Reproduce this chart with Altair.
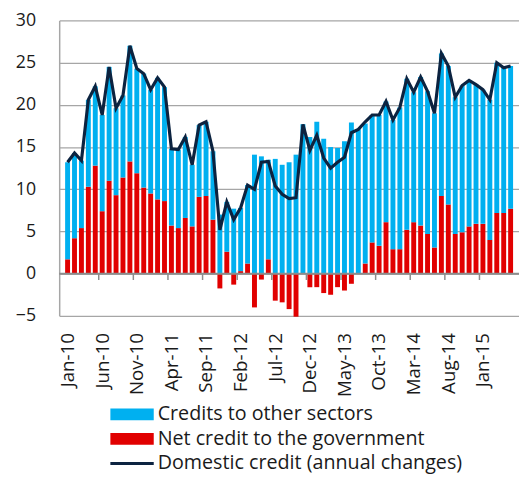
import json
import altair as alt
import pandas as pd

# ---- data ----
months = [
    "Jan-10", "Feb-10", "Mar-10", "Apr-10", "May-10", "Jun-10", "Jul-10", "Aug-10", "Sep-10", "Oct-10", "Nov-10", "Dec-10",
    "Jan-11", "Feb-11", "Mar-11", "Apr-11", "May-11", "Jun-11", "Jul-11", "Aug-11", "Sep-11", "Oct-11", "Nov-11", "Dec-11",
    "Jan-12", "Feb-12", "Mar-12", "Apr-12", "May-12", "Jun-12", "Jul-12", "Aug-12", "Sep-12", "Oct-12", "Nov-12", "Dec-12",
    "Jan-13", "Feb-13", "Mar-13", "Apr-13", "May-13", "Jun-13", "Jul-13", "Aug-13", "Sep-13", "Oct-13", "Nov-13", "Dec-13",
    "Jan-14", "Feb-14", "Mar-14", "Apr-14", "May-14", "Jun-14", "Jul-14", "Aug-14", "Sep-14", "Oct-14", "Nov-14", "Dec-14",
    "Jan-15", "Feb-15", "Mar-15", "Apr-15", "May-15",
]

net_gov = [
    1.7, 4.2, 5.4, 10.3, 12.8, 7.4, 11.0, 9.3, 11.4, 13.3, 11.9, 10.2,
    9.5, 8.8, 8.6, 5.7, 5.4, 6.6, 5.6, 9.1, 9.2, 6.4, -1.75, 2.6,
    -1.3, 0.3, 1.2, -4.0, -0.7, 1.7, -3.2, -3.4, -4.2, -5.1, 0.0, -1.6,
    -1.6, -2.3, -2.5, -1.6, -2.0, -1.2, 0.0, 1.2, 3.7, 3.3, 6.1, 2.9,
    2.9, 5.2, 6.1, 5.7, 4.7, 3.1, 9.2, 8.2, 4.7, 4.9, 5.6, 5.9,
    5.9, 4.0, 7.2, 7.2, 7.7,
]

other_sectors = [
    11.5, 10.1, 8.0, 10.3, 9.4, 11.4, 13.5, 10.3, 9.7, 13.7, 12.4, 13.5,
    12.3, 14.4, 13.5, 9.1, 9.3, 9.6, 7.3, 8.5, 8.8, 8.1, 7.0, 5.9,
    7.7, 7.5, 9.3, 14.1, 13.9, 11.8, 13.6, 12.9, 13.2, 14.1, 17.7, 16.2,
    18.0, 16.0, 15.0, 14.9, 15.7, 17.9, 17.1, 16.6, 15.1, 15.5, 14.3, 15.3,
    16.8, 17.9, 15.4, 17.6, 16.9, 15.9, 16.9, 16.4, 16.2, 17.4, 17.3, 16.5,
    15.9, 16.6, 17.8, 17.2, 16.9,
]

domestic = [
    13.2, 14.3, 13.4, 20.6, 22.2, 18.8, 24.5, 19.6, 21.1, 27.0, 24.3, 23.7,
    21.8, 23.2, 22.1, 14.8, 14.7, 16.2, 12.9, 17.6, 18.0, 14.5, 5.2, 8.5,
    6.4, 7.8, 10.5, 10.0, 13.2, 13.3, 10.4, 9.4, 8.9, 9.0, 17.7, 14.6,
    16.4, 13.7, 12.5, 13.2, 13.8, 16.7, 17.1, 18.0, 18.8, 18.8, 20.4, 18.2,
    19.7, 23.1, 21.5, 23.3, 21.6, 19.0, 26.1, 24.6, 20.9, 22.3, 22.9, 22.4,
    21.8, 20.6, 25.0, 24.4, 24.6,
]

S_OTHER = "Credits to other sectors"
S_GOV = "Net credit to the government"
S_DOM = "Domestic credit (annual changes)"

n = len(months)
bars_df = pd.DataFrame({
    "idx": list(range(n)) * 2,
    "series": [S_GOV] * n + [S_OTHER] * n,
    "value": net_gov + other_sectors,
})
line_df = pd.DataFrame({"idx": list(range(n)), "series": [S_DOM] * n, "value": domestic})
label_idx = list(range(0, n, 5))
tick_df = pd.DataFrame({"pos": [i - 0.5 for i in label_idx[1:]]})
zero_df = pd.DataFrame({"y": [0]})

FONT = "Open Sans"
GRID = "#a6a6a6"

x_scale = alt.Scale(domain=[-0.5, n - 0.5], nice=False, zero=False)
y_scale = alt.Scale(domain=[-5, 30], nice=False, zero=False)

x_axis = alt.Axis(
    values=label_idx,
    labelExpr=json.dumps(months) + "[datum.value]",
    labelAngle=-90,
    labelFont=FONT,
    labelFontSize=19,
    labelColor="#1a1a1a",
    labelPadding=17,
    labelOverlap=False,
    labelBound=False,
    labelFlush=False,
    ticks=False,
    domain=False,
    grid=False,
    title=None,
)
y_axis = alt.Axis(
    values=list(range(-5, 31, 5)),
    labelFont=FONT,
    labelFontSize=18,
    labelColor="#1a1a1a",
    labelPadding=24,
    labelOverlap=False,
    ticks=False,
    domain=True,
    domainColor=GRID,
    domainWidth=1.5,
    grid=True,
    gridColor=GRID,
    gridWidth=1.3,
    title=None,
)

rect_path = "M-3.67,-1L3.67,-1L3.67,1L-3.67,1Z"
line_path = "M-3.67,0L3.67,0"

bars = alt.Chart(bars_df).transform_calculate(
    ord="datum.series == '" + S_GOV + "' ? 0 : 1"
).mark_bar(size=5).encode(
    x=alt.X("idx:Q", scale=x_scale, axis=x_axis),
    y=alt.Y("value:Q", scale=y_scale, axis=y_axis, stack="zero"),
    color=alt.Color(
        "series:N",
        scale=alt.Scale(domain=[S_OTHER, S_GOV], range=["#00b0f0", "#e10000"]),
        legend=alt.Legend(
            title=None,
            orient="none",
            legendX=64,
            legendY=390,
            direction="vertical",
            symbolType=rect_path,
            symbolSize=144,
            symbolStrokeWidth=0,
            symbolOpacity=1,
            labelFont=FONT,
            labelFontSize=20,
            labelColor="#1a1a1a",
            labelOffset=16,
            labelLimit=0,
            rowPadding=5,
            padding=0,
        ),
    ),
    order=alt.Order("ord:Q"),
)

zero_rule = alt.Chart(zero_df).mark_rule(color="#8c8c8c", strokeWidth=2).encode(
    y=alt.Y("y:Q", scale=y_scale, axis=y_axis)
)

ticks = alt.Chart(tick_df).mark_rule(color="#8c8c8c", strokeWidth=1.5).encode(
    x=alt.X("pos:Q", scale=x_scale, axis=x_axis),
    y=alt.datum(0),
    y2=alt.datum(-0.75),
)

line = alt.Chart(line_df).mark_line(strokeWidth=3.2).encode(
    x=alt.X("idx:Q", scale=x_scale, axis=x_axis),
    y=alt.Y("value:Q", scale=y_scale, axis=y_axis),
    stroke=alt.Stroke(
        "series:N",
        scale=alt.Scale(domain=[S_DOM], range=["#0c2340"]),
        legend=alt.Legend(
            title=None,
            orient="none",
            legendX=64,
            legendY=440,
            symbolType=line_path,
            symbolSize=144,
            symbolStrokeWidth=3,
            labelFont=FONT,
            labelFontSize=20,
            labelColor="#1a1a1a",
            labelOffset=16,
            labelLimit=0,
            padding=0,
        ),
    ),
)

chart = alt.layer(bars, zero_rule, ticks, line).properties(
    width=467,
    height=300,
    padding={"left": 52, "top": 9, "right": 0, "bottom": 160},
    autosize=alt.AutoSizeParams(type="none"),
).configure_view(stroke=None)

chart.save("out.html", embed_options={"renderer": "svg", "actions": False})
